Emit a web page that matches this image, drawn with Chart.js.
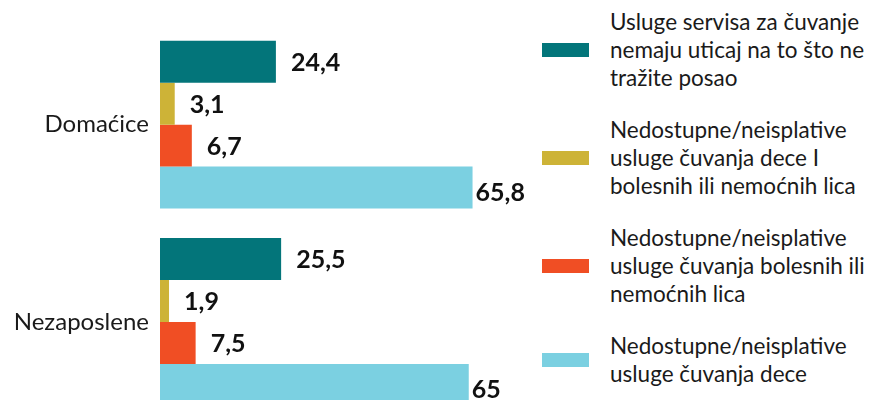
<!DOCTYPE html>
<html lang="sr">
<head>
<meta charset="UTF-8">
<title>Razlozi</title>
<script src="https://cdn.jsdelivr.net/npm/chart.js"></script>
<style>
    html, body {
        margin: 0;
        padding: 0;
        background: #fff;
        overflow: hidden;
    }
    body {
        width: 875px;
        height: 400px;
        position: relative;
        font-family: Lato, sans-serif;
    }
    #grafik {
        position: absolute;
        left: 0;
        top: 0;
    }
    #legenda {
        position: absolute;
        left: 542px;
        top: 8px;
        width: 333px;
    }
    .stavka {
        display: flex;
        align-items: center;
        height: 84px;
        margin-bottom: 24px;
    }
    .boja {
        width: 47px;
        height: 14px;
        flex: none;
        margin-right: 21px;
    }
    .tekst {
        font-size: 22.5px;
        line-height: 28px;
        color: #1a1a1a;
        white-space: nowrap;
    }
</style>
</head>
<body>
<canvas id="grafik" width="540" height="438"></canvas>
<div id="legenda"></div>

<script>
const kategorije = ['Domaćice', 'Nezaposlene'];

const nazivi = [
    ['Usluge servisa za čuvanje', 'nemaju uticaj na to što ne', 'tražite posao'],
    ['Nedostupne/neisplative', 'usluge čuvanja dece I', 'bolesnih ili nemoćnih lica'],
    ['Nedostupne/neisplative', 'usluge čuvanja bolesnih ili', 'nemoćnih lica'],
    ['Nedostupne/neisplative', 'usluge čuvanja dece']
];

const bezUticaja = [24.4, 25.5];
const deceIBolesnih = [3.1, 1.9];
const bolesnih = [6.7, 7.5];
const dece = [65.8, 65];

const boje = ['#03757a', '#cdb337', '#f04e24', '#7bd0e1'];

const serije = [bezUticaja, deceIBolesnih, bolesnih, dece];

// legenda u html-u, zbog teksta u vise redova
const legenda = document.getElementById('legenda');
nazivi.forEach(function (linije, i) {
    const s = document.createElement('div');
    s.className = 'stavka';
    if (i === nazivi.length - 1) s.style.height = '56px';
    const b = document.createElement('div');
    b.className = 'boja';
    b.style.background = boje[i];
    const t = document.createElement('div');
    t.className = 'tekst';
    t.innerHTML = linije.join('<br>');
    s.appendChild(b);
    s.appendChild(t);
    legenda.appendChild(s);
});

const oznake = {
    id: 'oznake',
    afterDatasetsDraw(chart) {
        const ctx = chart.ctx;
        const zadnji = chart.data.datasets.length - 1;
        ctx.save();
        ctx.font = 'bold 25px Lato, sans-serif';
        ctx.fillStyle = '#111';
        ctx.textAlign = 'left';
        ctx.textBaseline = 'middle';
        chart.data.datasets.forEach(function (ds, i) {
            chart.getDatasetMeta(i).data.forEach(function (bar, j) {
                const txt = String(ds.data[j]).replace('.', ',');
                // kod najduzih traka oznaka je skoro uz samu traku
                if (i === zadnji) ctx.fillText(txt, bar.x + 3, bar.y + 5);
                else ctx.fillText(txt, bar.x + 15, bar.y + 1);
            });
        });
        ctx.restore();
    }
};

new Chart(document.getElementById('grafik'), {
    type: 'bar',
    data: {
        labels: kategorije,
        datasets: serije.map(function (d, i) {
            return {
                label: nazivi[i].join(' '),
                data: d,
                backgroundColor: boje[i],
                barPercentage: 1,
                categoryPercentage: 0.85
            };
        })
    },
    options: {
        indexAxis: 'y',
        responsive: false,
        animation: false,
        layout: { padding: { top: 26, bottom: 10, right: 0, left: 0 } },
        plugins: {
            legend: { display: false },
            tooltip: { enabled: false }
        },
        scales: {
            x: {
                display: false,
                min: 0,
                max: 80
            },
            y: {
                grid: { display: false },
                border: { display: false },
                ticks: {
                    padding: 3,
                    color: '#1a1a1a',
                    font: { family: 'Lato, sans-serif', size: 24 }
                },
                afterFit(axis) { axis.width = 160; }
            }
        }
    },
    plugins: [oznake]
});
</script>
</body>
</html>
